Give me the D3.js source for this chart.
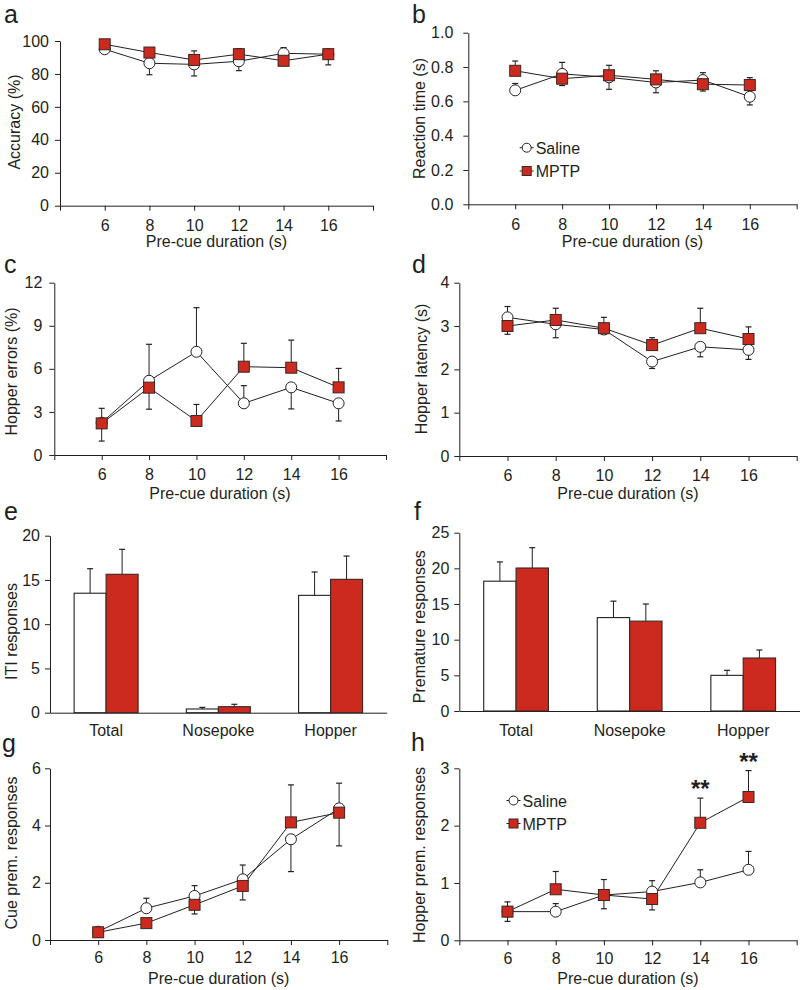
<!DOCTYPE html>
<html><head><meta charset="utf-8">
<script src="https://cdn.jsdelivr.net/npm/d3@7"></script>
<style>
body{margin:0;background:#fff}
svg{display:block}
text{font-family:"Liberation Sans",Arial,Helvetica,sans-serif}
</style>
</head><body>
<svg id="chart" width="800" height="990"></svg>
<script>
// ---------------- DATA ----------------
const preCue = [6, 8, 10, 12, 14, 16];
const xTickValues = [4, 6, 8, 10, 12, 14, 16, 18];
const seriesNames = ["Saline", "MPTP"];
const barCategories = ["Total", "Nosepoke", "Hopper"];

// a: Accuracy (%)  (signed SEM: + drawn upward, - drawn downward)
const accSaline    = [95, 86.5, 85.8, 87.7, 92.5, 92];
const accSalineErr = [-2.5, -7, -7, -5.7, 3.5, -6.5];
const accMptp      = [98, 93, 88.5, 92, 88, 92];
const accMptpErr   = [1.5, 1.5, 5.5, 3.3, -3, 1.5];

// b: Reaction time (s)
const rtSaline    = [0.664, 0.76, 0.74, 0.71, 0.724, 0.627];
const rtSalineErr = [0.04, 0.067, -0.07, -0.06, 0.043, -0.048];
const rtMptp      = [0.778, 0.732, 0.752, 0.728, 0.70, 0.695];
const rtMptpErr   = [0.057, -0.04, 0.058, 0.05, -0.04, 0.043];

// c: Hopper errors (%)
const heSaline    = [2.25, 5.17, 7.19, 3.6, 4.71, 3.6];
const heSalineErr = [1.0, 2.54, 3.07, 1.23, -1.5, -1.23];
const heMptp      = [2.2, 4.69, 2.37, 6.15, 6.08, 4.71];
const heMptpErr   = [-1.23, -1.5, 1.15, 1.63, 1.92, 1.32];

// d: Hopper latency (s)
const hlSaline    = [3.2, 3.04, 2.92, 2.18, 2.52, 2.45];
const hlSalineErr = [0.25, -0.31, -0.11, -0.16, -0.23, -0.22];
const hlMptp      = [3.0, 3.14, 2.95, 2.56, 2.95, 2.7];
const hlMptpErr   = [-0.19, 0.27, 0.25, 0.17, 0.46, 0.28];

// e: ITI responses
const itiSaline    = [13.5, 0.42, 13.26];
const itiSalineErr = [2.77, 0.18, 2.64];
const itiMptp      = [15.64, 0.68, 15.07];
const itiMptpErr   = [2.82, 0.27, 2.63];

// f: Premature responses
const premSaline    = [18.2, 13.1, 5.0];
const premSalineErr = [2.7, 2.3, 0.7];
const premMptp      = [20.05, 12.6, 7.43];
const premMptpErr   = [2.85, 2.4, 1.12];

// g: Cue prem. responses
const cueSaline    = [0.29, 1.11, 1.54, 2.12, 3.52, 4.6];
const cueSalineErr = [0.04, 0.35, 0.36, 0.5, -1.13, 0.88];
const cueMptp      = [0.27, 0.59, 1.23, 1.89, 4.11, 4.45];
const cueMptpErr   = [-0.04, -0.05, -0.32, -0.49, 1.31, -1.16];

// h: Hopper prem. responses
const hpSaline    = [0.5, 0.5, 0.79, 0.85, 1.01, 1.23];
const hpSalineErr = [-0.17, 0.14, -0.24, 0.19, 0.22, 0.32];
const hpMptp      = [0.5, 0.89, 0.79, 0.72, 2.05, 2.5];
const hpMptpErr   = [0.17, 0.31, 0.27, -0.19, 0.43, 0.46];
const hpSignificance = ["", "", "", "", "**", "**"];

// ---------------- STYLE ----------------
const INK = "#231f20";
const RED = "#cc2a1e";
const EDGE = "#3b2624";
const FS = 16;

const svg = d3.select("#chart");

function styleAxis(sel) {
  sel.select(".domain").attr("stroke", INK).attr("stroke-width", 1);
  sel.selectAll(".tick line").attr("stroke", INK).attr("stroke-width", 1);
  sel.selectAll(".tick text").attr("fill", INK).style("font-size", FS + "px")
     .style("font-family", '"Liberation Sans",Arial,sans-serif');
}

function panelLetter(t, x, y) {
  svg.append("text").attr("x", x).attr("y", y).text(t)
     .style("font-size", "25px").attr("fill", INK);
}
function yTitle(t, bx, cy) {
  svg.append("text").attr("transform", `translate(${bx},${cy}) rotate(-90)`)
     .attr("text-anchor", "middle").style("font-size", FS + "px").attr("fill", INK).text(t);
}
function xTitle(t, cx, by) {
  svg.append("text").attr("x", cx).attr("y", by).attr("text-anchor", "middle")
     .style("font-size", FS + "px").attr("fill", INK).text(t);
}

function drawMarker(g, type, cx, cy, size) {
  if (type === "circle") {
    g.append("circle").attr("cx", cx).attr("cy", cy).attr("r", size / 2)
     .attr("fill", "#fff").attr("stroke", INK).attr("stroke-width", 1);
  } else {
    g.append("rect").attr("x", cx - size / 2).attr("y", cy - size / 2)
     .attr("width", size).attr("height", size)
     .attr("fill", RED).attr("stroke", EDGE).attr("stroke-width", 1);
  }
}

function drawLinePanel(p) {
  const x = d3.scaleLinear().domain([4, 18]).range([p.x0, p.x1]);
  const y = d3.scaleLinear().domain(p.yDomain).range([p.y0, p.y1]);
  const g = svg.append("g");

  const xa = d3.axisBottom(x).tickValues(xTickValues).tickSize(5).tickSizeOuter(0)
    .tickPadding(p.xPad).tickFormat(d => (d === 4 || d === 18) ? "" : d);
  g.append("g").attr("transform", `translate(0,${p.y0})`).call(xa).call(styleAxis);
  const ya = d3.axisLeft(y).tickValues(p.yTicks).tickSize(5).tickSizeOuter(0)
    .tickPadding(p.yPad).tickFormat(p.fmt);
  g.append("g").attr("transform", `translate(${p.x0},0)`).call(ya).call(styleAxis);

  const series = [
    {v: p.saline, e: p.salineErr, type: "circle"},
    {v: p.mptp, e: p.mptpErr, type: "square"}
  ];
  const line = d3.line().x((d, i) => x(preCue[i])).y(d => y(d));
  series.forEach(s => {
    g.append("path").datum(s.v).attr("d", line).attr("fill", "none")
     .attr("stroke", INK).attr("stroke-width", 1);
  });
  series.forEach(s => {
    s.v.forEach((v, i) => {
      const e = s.e[i];
      if (!e) return;
      const cx = x(preCue[i]);
      g.append("line").attr("x1", cx).attr("x2", cx).attr("y1", y(v)).attr("y2", y(v + e))
       .attr("stroke", INK).attr("stroke-width", 1);
      g.append("line").attr("x1", cx - 3).attr("x2", cx + 3).attr("y1", y(v + e)).attr("y2", y(v + e))
       .attr("stroke", INK).attr("stroke-width", 1.2);
    });
  });
  series.forEach(s => {
    s.v.forEach((v, i) => drawMarker(g, s.type, x(preCue[i]), y(v), 11));
  });
  return {x, y, g};
}

function drawBarPanel(p) {
  const x = d3.scaleBand().domain(barCategories).range([p.x0, p.x1])
    .paddingInner(0.43).paddingOuter(0.215);
  const xi = d3.scaleBand().domain(seriesNames).range([0, x.bandwidth()]);
  const y = d3.scaleLinear().domain(p.yDomain).range([p.y0, p.y1]);
  const g = svg.append("g");

  const xa = d3.axisBottom(x).tickSize(0).tickSizeOuter(0).tickPadding(p.xPad);
  g.append("g").attr("transform", `translate(0,${p.y0})`).call(xa).call(styleAxis);
  const ya = d3.axisLeft(y).tickValues(p.yTicks).tickSize(5).tickSizeOuter(0).tickPadding(p.yPad);
  g.append("g").attr("transform", `translate(${p.x0},0)`).call(ya).call(styleAxis);

  const series = [
    {name: "Saline", v: p.saline, e: p.salineErr, fill: "#fff", stroke: INK},
    {name: "MPTP", v: p.mptp, e: p.mptpErr, fill: RED, stroke: EDGE}
  ];
  series.forEach(s => {
    s.v.forEach((v, i) => {
      const bx = x(barCategories[i]) + xi(s.name);
      const cx = bx + xi.bandwidth() / 2;
      g.append("line").attr("x1", cx).attr("x2", cx).attr("y1", y(v)).attr("y2", y(v + s.e[i]))
       .attr("stroke", INK).attr("stroke-width", 1);
      g.append("line").attr("x1", cx - 3).attr("x2", cx + 3).attr("y1", y(v + s.e[i])).attr("y2", y(v + s.e[i]))
       .attr("stroke", INK).attr("stroke-width", 1.2);
    });
  });
  series.forEach(s => {
    s.v.forEach((v, i) => {
      const bx = x(barCategories[i]) + xi(s.name);
      g.append("rect").attr("x", bx).attr("y", y(v)).attr("width", xi.bandwidth())
       .attr("height", y(0) - y(v)).attr("fill", s.fill).attr("stroke", s.stroke).attr("stroke-width", 1.1);
    });
  });
}

function legend(x, y1, y2) {
  const g = svg.append("g");
  g.append("line").attr("x1", x - 7).attr("x2", x + 7).attr("y1", y1).attr("y2", y1).attr("stroke", INK);
  drawMarker(g, "circle", x, y1, 9);
  g.append("line").attr("x1", x - 7).attr("x2", x + 7).attr("y1", y2).attr("y2", y2).attr("stroke", INK);
  drawMarker(g, "square", x, y2, 9);
  g.append("text").attr("x", x + 9).attr("y", y1 + 6).style("font-size", FS + "px").attr("fill", INK).text(seriesNames[0]);
  g.append("text").attr("x", x + 9).attr("y", y2 + 6).style("font-size", FS + "px").attr("fill", INK).text(seriesNames[1]);
}

// ---------------- PANELS ----------------
const fmt0 = d3.format("d");
drawLinePanel({x0: 60, x1: 373, y0: 205.7, y1: 41, yDomain: [0, 100], yTicks: d3.range(0, 101, 20),
  fmt: fmt0, xPad: 9, yPad: 6, saline: accSaline, salineErr: accSalineErr, mptp: accMptp, mptpErr: accMptpErr});
drawLinePanel({x0: 468.3, x1: 796.7, y0: 204.3, y1: 32.7, yDomain: [0, 1], yTicks: d3.range(0, 1.01, 0.2),
  fmt: d3.format(".1f"), xPad: 9, yPad: 10, saline: rtSaline, salineErr: rtSalineErr, mptp: rtMptp, mptpErr: rtMptpErr});
drawLinePanel({x0: 54.3, x1: 386, y0: 455, y1: 282.7, yDomain: [0, 12], yTicks: d3.range(0, 13, 3),
  fmt: fmt0, xPad: 9, yPad: 7, saline: heSaline, salineErr: heSalineErr, mptp: heMptp, mptpErr: heMptpErr});
drawLinePanel({x0: 459.3, x1: 796.7, y0: 456, y1: 282.7, yDomain: [0, 4], yTicks: d3.range(0, 5, 1),
  fmt: fmt0, xPad: 9, yPad: 5, saline: hlSaline, salineErr: hlSalineErr, mptp: hlMptp, mptpErr: hlMptpErr});
drawBarPanel({x0: 50, x1: 386.7, y0: 712.7, y1: 535.7, yDomain: [0, 20], yTicks: d3.range(0, 21, 5),
  xPad: 12, yPad: 5, saline: itiSaline, salineErr: itiSalineErr, mptp: itiMptp, mptpErr: itiMptpErr});
drawBarPanel({x0: 459.3, x1: 800, y0: 711, y1: 532.7, yDomain: [0, 25], yTicks: d3.range(0, 26, 5),
  xPad: 14, yPad: 5, saline: premSaline, salineErr: premSalineErr, mptp: premMptp, mptpErr: premMptpErr});
drawLinePanel({x0: 50, x1: 387.3, y0: 940, y1: 768.3, yDomain: [0, 6], yTicks: d3.range(0, 7, 2),
  fmt: fmt0, xPad: 7, yPad: 4, saline: cueSaline, salineErr: cueSalineErr, mptp: cueMptp, mptpErr: cueMptpErr});
const ph = drawLinePanel({x0: 459.3, x1: 796.7, y0: 940.3, y1: 768.3, yDomain: [0, 3], yTicks: d3.range(0, 4, 1),
  fmt: fmt0, xPad: 7, yPad: 5, saline: hpSaline, salineErr: hpSalineErr, mptp: hpMptp, mptpErr: hpMptpErr});

// significance stars (panel h)
hpSignificance.forEach((s, i) => {
  if (!s) return;
  ph.g.append("text").attr("x", ph.x(preCue[i])).attr("y", ph.y(hpMptp[i] + hpMptpErr[i]) - 1)
    .attr("text-anchor", "middle").style("font-size", "24px").style("font-weight", "bold")
    .attr("fill", INK).text(s);
});

// legends
legend(526.7, 147.7, 171);
legend(513.5, 800.5, 823.5);

// letters
panelLetter("a", 4, 23);
panelLetter("b", 412, 23);
panelLetter("c", 4, 273);
panelLetter("d", 412, 273);
panelLetter("e", 4, 520);
panelLetter("f", 414, 520);
panelLetter("g", 2, 752);
panelLetter("h", 411, 751);

// axis titles
yTitle("Accuracy (%)", 20, 122);
yTitle("Reaction time (s)", 425, 118.5);
yTitle("Hopper errors (%)", 16.5, 371.5);
yTitle("Hopper latency (s)", 426.5, 369);
yTitle("ITI responses", 16.5, 631.5);
yTitle("Premature responses", 424.5, 626.7);
yTitle("Cue prem. responses", 16.5, 853);
yTitle("Hopper prem. responses", 425, 855);

xTitle("Pre-cue duration (s)", 216.5, 247);
xTitle("Pre-cue duration (s)", 632.5, 247);
xTitle("Pre-cue duration (s)", 220, 499);
xTitle("Pre-cue duration (s)", 628, 499);
xTitle("Pre-cue duration (s)", 218.7, 984);
xTitle("Pre-cue duration (s)", 628, 984);
</script>
</body></html>
